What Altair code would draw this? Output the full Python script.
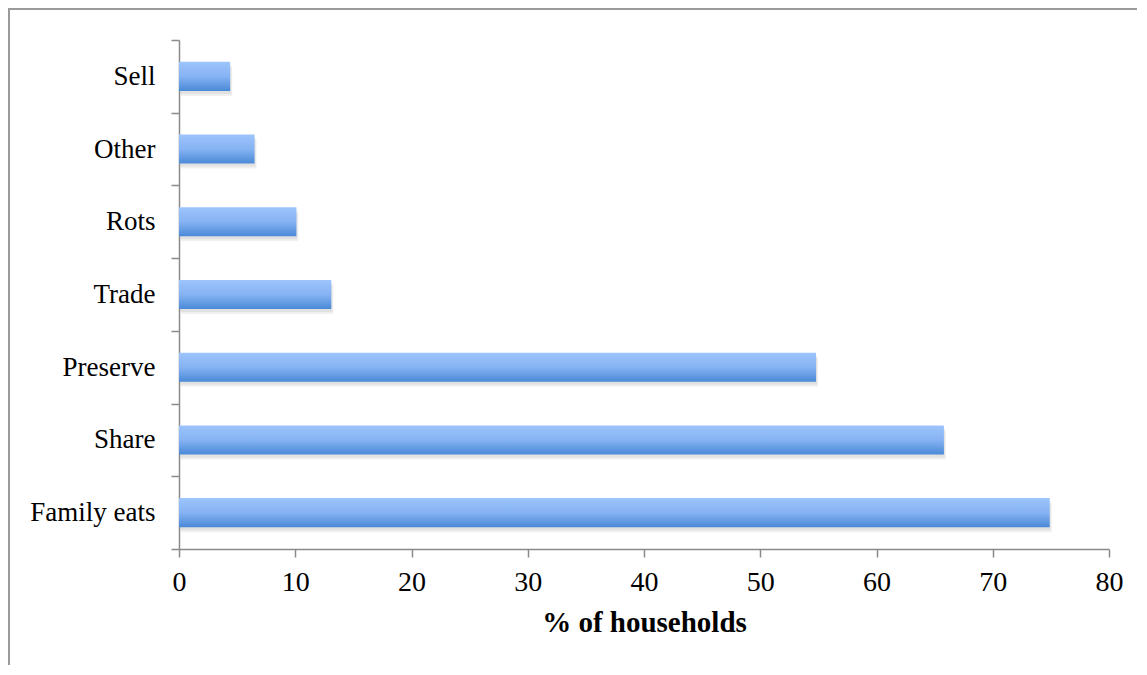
import altair as alt
import pandas as pd

categories = ["Sell", "Other", "Rots", "Trade", "Preserve", "Share", "Family eats"]
values = [4.4, 6.5, 10.1, 13.1, 54.8, 65.8, 74.9]
x_ticks = [0, 10, 20, 30, 40, 50, 60, 70, 80]

df = pd.DataFrame({"category": categories, "value": values})

FONT = "Liberation Serif"

y_scale = alt.Scale(paddingInner=0, paddingOuter=0)
y_enc = alt.Y(
    "category:N",
    sort=categories,
    scale=y_scale,
    axis=alt.Axis(
        title=None,
        tickBand="extent",
        tickSize=8,
        labelPadding=16,
        labelFontSize=27,
        labelFont=FONT,
        labelColor="#000000",
    ),
)
x_enc = alt.X(
    "value:Q",
    scale=alt.Scale(domain=[0, 80], nice=False),
    axis=alt.Axis(
        title="% of households",
        values=x_ticks,
        tickSize=8,
        labelPadding=11,
        labelFontSize=28,
        labelFont=FONT,
        labelColor="#000000",
        labelFlush=False,
        grid=False,
        titleFont=FONT,
        titleFontSize=29,
        titleFontWeight="bold",
        titleColor="#000000",
        titlePadding=12,
    ),
)

base = alt.Chart(df)

shadow1 = base.mark_bar(color="#000000", opacity=0.06, yOffset=5, xOffset=2, height={"band": 0.4}).encode(x=x_enc, y=y_enc)
shadow2 = base.mark_bar(color="#000000", opacity=0.06, yOffset=3, xOffset=1, height={"band": 0.4}).encode(x=x_enc, y=y_enc)

gradient = alt.Gradient(
    gradient="linear",
    stops=[
        alt.GradientStop(color="#9dc4fc", offset=0),
        alt.GradientStop(color="#86b3f3", offset=0.5),
        alt.GradientStop(color="#4a89d7", offset=1),
    ],
    x1=0, x2=0, y1=0, y2=1,
)

bars = base.mark_bar(color=gradient, height={"band": 0.4}).encode(x=x_enc, y=y_enc)

frame_data = alt.Data(values=[{}])
frame_left = alt.Chart(frame_data).mark_rule(color="#9a9a9a", strokeWidth=2).encode(
    x=alt.value(-170), y=alt.value(-31), y2=alt.value(640)
)
frame_top = alt.Chart(frame_data).mark_rule(color="#9a9a9a", strokeWidth=2).encode(
    x=alt.value(-171), x2=alt.value(1000), y=alt.value(-31)
)

chart = (
    alt.layer(shadow1, shadow2, bars, frame_left, frame_top)
    .properties(
        width=930,
        height=509,
        padding={"left": 171, "top": 32, "right": 28, "bottom": 116},
        autosize="none",
    )
    .configure_view(stroke=None)
    .configure_axis(
        domainColor="#8a8a8a",
        tickColor="#8a8a8a",
        domainWidth=1.5,
        tickWidth=1.5,
    )
)

chart.save("out.html", embed_options={"renderer": "svg", "actions": False})
